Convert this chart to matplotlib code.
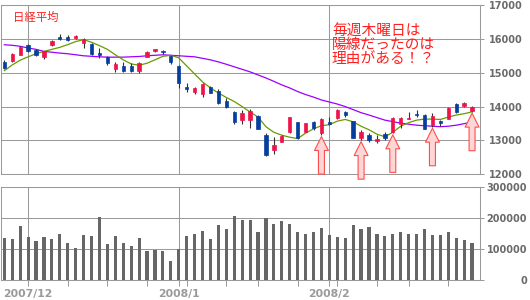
import matplotlib
matplotlib.use("Agg")
import matplotlib.pyplot as plt
import numpy as np

# daily candles, Nikkei 225 (2007/11/28 - 2008/2/28)
opens = [15330, 15350, 15530, 15805, 15680, 15450, 15805, 16045, 16065, 16025,
         15875, 15855, 15590, 15460, 15115, 15205, 15205, 15065, 15460, 15630,
         15655, 15500, 15210, 14590, 14420, 14370, 14590, 14460, 14165, 13845,
         13600, 13600, 13725, 13155, 12730, 12955, 13235, 13530, 13250, 13530,
         13205, 13550, 13650, 13845, 13580, 13085, 13175, 12975, 13185, 13250,
         13500, 13640, 13770, 13750, 13450, 13580, 13630, 14075, 14025, 13875]
highs = [15380, 15590, 15790, 15850, 15710, 15650, 15965, 16150, 16125, 16125,
         16025, 15875, 15730, 15490, 15315, 15330, 15300, 15330, 15630, 15710,
         15685, 15530, 15235, 14705, 14590, 14690, 14620, 14510, 14245, 13875,
         13895, 13915, 13750, 13205, 13105, 13155, 13700, 13550, 13520, 13570,
         13665, 13695, 13915, 13875, 13580, 13300, 13220, 13155, 13235, 13695,
         13695, 13845, 13895, 13775, 13800, 13600, 13995, 14115, 14135, 14015]
lows = [15115, 15330, 15520, 15625, 15480, 15400, 15790, 15965, 15925, 16005,
        15730, 15530, 15430, 15230, 15035, 15035, 15015, 14995, 15450, 15600,
        15560, 15260, 14560, 14420, 14370, 14290, 14410, 14075, 13945, 13480,
        13500, 13380, 13325, 12540, 12610, 12955, 13205, 13055, 13250, 13300,
        13155, 13450, 13630, 13680, 13085, 13005, 12955, 12925, 13025, 13205,
        13380, 13620, 13695, 13325, 13400, 13420, 13620, 13815, 13975, 13845]
closes = [15150, 15550, 15745, 15655, 15530, 15630, 15925, 15985, 15955, 16095,
          15985, 15550, 15530, 15285, 15260, 15065, 15055, 15285, 15600, 15710,
          15600, 15330, 14705, 14530, 14560, 14660, 14410, 14115, 13995, 13530,
          13815, 13875, 13325, 12580, 12855, 13135, 13680, 13085, 13520, 13355,
          13630, 13480, 13895, 13750, 13085, 13250, 13005, 13035, 13085, 13665,
          13665, 13665, 13740, 13325, 13720, 13520, 13965, 13845, 14095, 13975]
volumes = [135000, 132000, 174000, 139000, 126000, 139000, 132000, 148000, 119000, 103000,
           145000, 142000, 204000, 116000, 142000, 119000, 109000, 135000, 93000, 96000,
           93000, 61000, 100000, 142000, 148000, 158000, 132000, 178000, 165000, 207000,
           194000, 194000, 155000, 200000, 182000, 191000, 182000, 155000, 148000, 155000,
           168000, 145000, 139000, 135000, 178000, 165000, 171000, 148000, 142000, 148000,
           155000, 148000, 148000, 165000, 145000, 145000, 155000, 135000, 129000, 119000]

# moving average lines as drawn on the chart
ma_short = [15060, 15230, 15370, 15470, 15560, 15630, 15690, 15750, 15830, 15920,
            15975, 15900, 15800, 15690, 15530, 15380, 15260, 15220, 15280, 15380,
            15485, 15515, 15440, 15200, 14965, 14730, 14550, 14400, 14270, 14150,
            14000, 13840, 13690, 13405, 13240, 13155, 13095, 13055, 13215, 13345,
            13435, 13465, 13570, 13620, 13550, 13420, 13315, 13185, 13110, 13240,
            13420, 13525, 13600, 13630, 13630, 13620, 13690, 13750, 13790, 13845]
ma_long = [15825, 15810, 15780, 15730, 15690, 15630, 15605, 15580, 15560, 15530,
           15500, 15485, 15470, 15460, 15460, 15460, 15470, 15480, 15500, 15515,
           15530, 15515, 15500, 15485, 15470, 15425, 15380, 15320, 15250, 15175,
           15100, 15025, 14935, 14845, 14745, 14640, 14550, 14445, 14355, 14280,
           14195, 14135, 14075, 14000, 13910, 13820, 13750, 13675, 13600, 13555,
           13510, 13480, 13450, 13435, 13420, 13405, 13420, 13450, 13495, 13540]

month_idx = [3, 22, 41]
month_labels = ["2007/12", "2008/1", "2008/2"]
week_idx = [8, 13, 18, 23, 28, 32, 37, 42, 47, 51, 56]
thursday_idx = [40, 45, 49, 54, 59]

title = "日経平均"
note_lines = ["毎週木曜日は", "陽線だったのは", "理由がある！？"]

UP = "#f0124a"
DOWN = "#063e9e"
GRID = "#9a9a9a"
CJK = ["Noto Sans CJK JP", "DejaVu Sans"]

W, H = 530, 300
fig = plt.figure(figsize=(W / 100, H / 100), dpi=100)
ax = fig.add_axes([1 / W, 1 - 174.3 / H, 479 / W, 169.3 / H])
axv = fig.add_axes([1 / W, 1 - 279.7 / H, 479 / W, 92.4 / H])

x = np.arange(len(closes))
o = np.array(opens)
c = np.array(closes)
colors = [UP if cc >= oo else DOWN for oo, cc in zip(o, c)]

# price panel
ax.plot(x, ma_long, color="#9b00ff", lw=0.9, zorder=2)
ax.plot(x, ma_short, color="#6a9a00", lw=0.9, zorder=2)
ax.vlines(x, lows, highs, color="#333333", lw=0.8, zorder=3)
ax.bar(x, np.abs(c - o), bottom=np.minimum(o, c), width=0.42,
       color=colors, edgecolor=colors, linewidth=0.5, zorder=4)

for i in thursday_idx:
    ax.annotate("", xy=(i, lows[i]), xytext=(0, -28), textcoords="offset points",
                arrowprops=dict(arrowstyle="simple,head_width=1.0,head_length=1.0,tail_width=0.43",
                                mutation_scale=10, fc="#ffd6d6", ec="#ff4d4d", lw=0.8,
                                shrinkA=0, shrinkB=1),
                zorder=5)

ax.set_xlim(-0.42, 60.0)
ax.set_ylim(12000, 17000)
ax.set_yticks(range(12000, 17001, 1000))
ax.set_xticks(month_idx)
ax.tick_params(axis="x", length=0, labelbottom=False)

ax.text(0.025, 0.925, title, transform=ax.transAxes, color="#ff2020",
        fontsize=8.2, family=CJK, va="center", ha="left")
for k, line in enumerate(note_lines):
    ax.text(0.691, 0.846 - k * 0.0835, line, transform=ax.transAxes, color="#ff2020",
            fontsize=10.6, family=CJK, va="center", ha="left")

# volume panel
axv.bar(x, volumes, width=0.4, color="#666666", zorder=3)
axv.set_xlim(-0.42, 60.0)
axv.set_ylim(0, 300000)
axv.set_yticks(range(0, 300001, 100000))
axv.set_xticks(month_idx)
axv.set_xticklabels(month_labels)
axv.set_xticks(week_idx, minor=True)
axv.tick_params(axis="x", which="both", direction="out", length=4, width=0.72,
                color=GRID, labelsize=7.8, labelcolor="#9a9a9a", pad=3)

for a in (ax, axv):
    a.set_axisbelow(True)
    a.grid(True, which="major", color=GRID, lw=0.75)
    for s in a.spines.values():
        s.set_color(GRID)
        s.set_linewidth(0.75)
    a.yaxis.tick_right()
    a.tick_params(axis="y", direction="out", length=3, width=0.72, color=GRID,
                  labelsize=7, labelcolor="#6a6a6a")
    for t in a.get_yticklabels() + a.get_xticklabels():
        t.set_fontweight("bold")

ax.tick_params(axis="y", pad=3.5)
axv.tick_params(axis="y", pad=30.8)
for t in axv.get_yticklabels():
    t.set_horizontalalignment("right")

fig.savefig("out.png", dpi=100)
